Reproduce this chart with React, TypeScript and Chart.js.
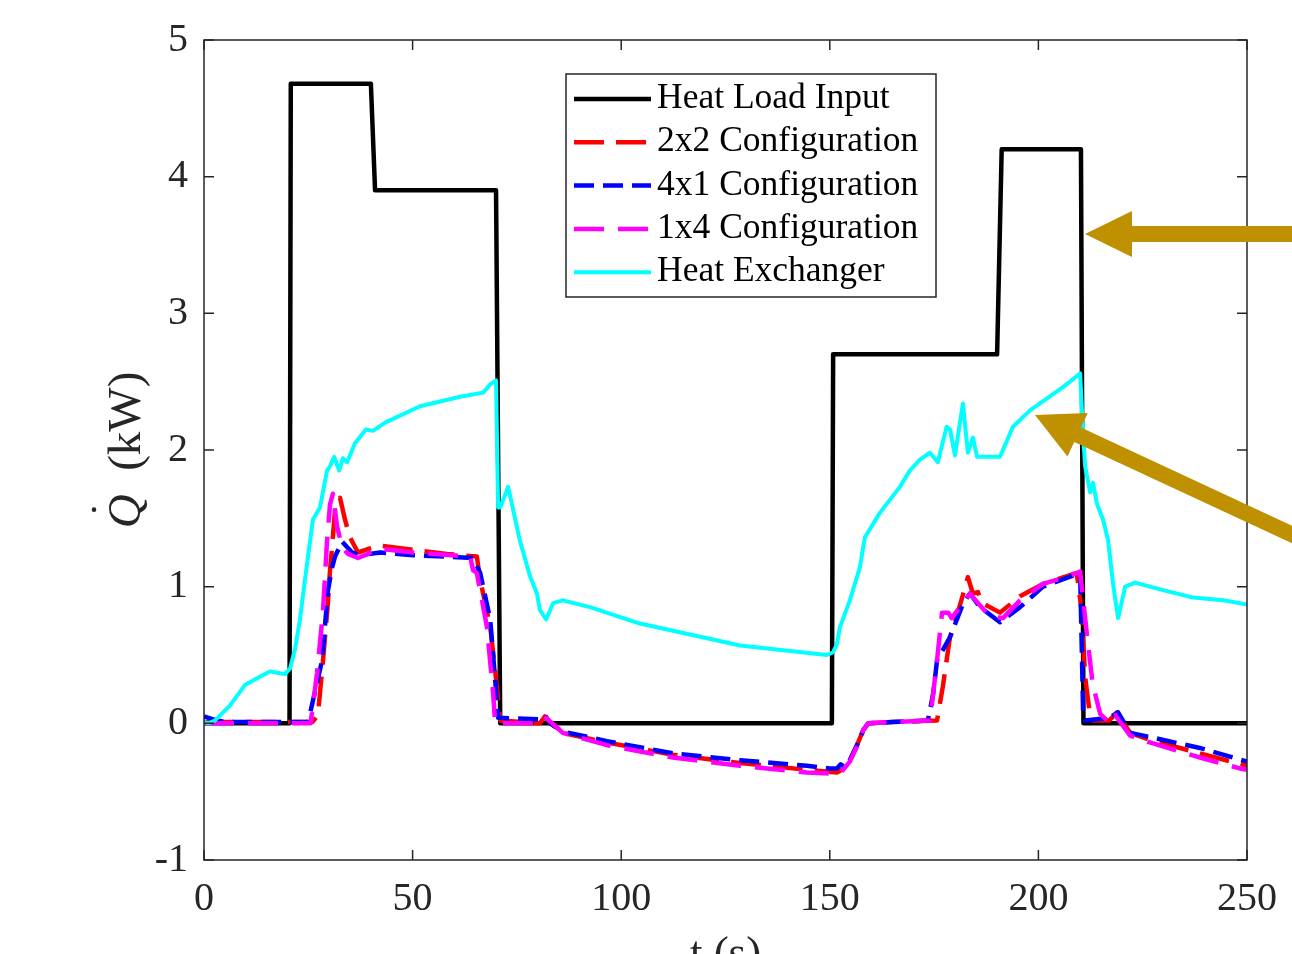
import { useEffect, useRef } from "react";
import { Chart, registerables } from "chart.js";

Chart.register(...registerables);

const FONT = '"Liberation Serif", "Times New Roman", serif';

// ---- data ----
const xTicks = [0, 50, 100, 150, 200, 250];
const yTicks = [-1, 0, 1, 2, 3, 4, 5];
const seriesNames = [
  "Heat Load Input",
  "2x2 Configuration",
  "4x1 Configuration",
  "1x4 Configuration",
  "Heat Exchanger",
];

const heatLoadT = [0, 20.5, 20.8, 40.0, 41.0, 70.0, 71.0, 150.5, 150.8, 190.1, 191.2, 210.2, 210.8, 250];
const heatLoadQ = [0, 0, 4.68, 4.68, 3.9, 3.9, 0, 0, 2.7, 2.7, 4.2, 4.2, 0, 0];

const cfg2x2T = [0, 26, 27.3, 28.5, 29.7, 30.2, 30.7, 31.4, 32.6, 33.8, 35, 36.9, 39.8, 42.2, 50.1, 58.2, 65.4, 66.2, 68.6, 70.2, 71, 80.5, 81.7, 83, 86, 96.6, 112.4, 128.5, 144.5, 151.7, 153.5, 154.8, 156.8, 158, 159.2, 165, 175.7, 177.1, 178.8, 180.4, 182, 183.1, 184.3, 185.5, 186.5, 190.8, 195.6, 201.1, 209.2, 210.4, 211.2, 212.4, 213, 217, 218.8, 222, 226.7, 238.7, 250];
const cfg2x2Q = [0.01, 0.01, 0.06, 0.45, 0.88, 1.12, 1.29, 1.56, 1.65, 1.49, 1.36, 1.25, 1.28, 1.3, 1.27, 1.24, 1.22, 1.05, 0.71, 0.27, 0.02, 0.0, 0.05, 0.0, -0.07, -0.14, -0.23, -0.29, -0.34, -0.36, -0.33, -0.27, -0.14, -0.05, 0.0, 0.01, 0.02, 0.27, 0.63, 0.78, 0.95, 1.07, 0.95, 0.96, 0.88, 0.81, 0.93, 1.02, 1.1, 0.81, 0.34, 0.05, 0.02, 0.02, 0.08, -0.07, -0.12, -0.22, -0.31];

const cfg4x1T = [0, 2, 5, 25, 25.4, 28.3, 29.7, 30.7, 31.4, 33.1, 35.5, 37.4, 42.2, 50.1, 58.2, 64.5, 66.2, 68.6, 70, 70.5, 80.5, 81.7, 83, 86, 96.6, 112.4, 128.5, 144.5, 150, 151.7, 152.6, 153.6, 154.8, 156.8, 158, 159.2, 165, 173.5, 174.8, 175.7, 178.8, 182, 183.6, 186, 190.8, 195.6, 201.1, 208.3, 210, 210.4, 210.7, 211.2, 217, 219.1, 222, 226.7, 238.7, 250];
const cfg4x1Q = [0.05, 0.03, 0.01, 0.01, 0.07, 0.46, 0.97, 1.14, 1.22, 1.33, 1.25, 1.23, 1.25, 1.23, 1.22, 1.21, 1.1, 0.76, 0.24, 0.04, 0.03, 0.06, 0.0, -0.06, -0.13, -0.22, -0.27, -0.31, -0.33, -0.33, -0.3, -0.32, -0.27, -0.14, -0.05, 0.0, 0.01, 0.02, 0.22, 0.46, 0.63, 0.88, 0.95, 0.85, 0.74, 0.85, 1.0, 1.08, 1.1, 0.54, 0.1, 0.02, 0.04, 0.08, -0.07, -0.1, -0.18, -0.28];

const cfg1x4T = [0, 25.5, 25.9, 27.1, 28.5, 29.5, 30.2, 30.9, 31.9, 33.1, 34.5, 36.9, 39.3, 41.7, 50.1, 63.8, 64.5, 65.4, 67.8, 69.3, 69.8, 80, 81, 82, 83.5, 86, 96.6, 112.4, 128.5, 144.5, 152.4, 154.8, 156.8, 158, 159.2, 165, 174, 174.4, 175.7, 176.9, 178.4, 179.2, 181.2, 183.6, 185.5, 188.4, 191.5, 195.6, 201.1, 207.6, 210, 211.6, 213, 214.8, 217.2, 218.4, 222, 226.7, 238.7, 248.3, 250];
const cfg1x4Q = [0.0, 0.0, 0.08, 0.37, 0.81, 1.34, 1.6, 1.68, 1.44, 1.29, 1.24, 1.21, 1.24, 1.28, 1.25, 1.22, 1.12, 1.1, 0.71, 0.22, 0.0, 0.0, 0.0, 0.04, 0.0, -0.07, -0.16, -0.25, -0.31, -0.36, -0.37, -0.28, -0.15, -0.05, 0.0, 0.01, 0.02, 0.12, 0.46, 0.81, 0.81, 0.77, 0.85, 0.95, 0.88, 0.78, 0.77, 0.9, 1.02, 1.08, 1.11, 0.66, 0.29, 0.07, 0.0, 0.06, -0.09, -0.14, -0.25, -0.33, -0.34];

const hxT = [0, 1, 2.6, 6.2, 9.8, 13.4, 15.8, 17.5, 19.4, 20.6, 21.8, 23, 24.2, 26.1, 27.8, 29.5, 30.2, 31.2, 32.4, 33.3, 34.3, 36.2, 38.8, 40.5, 43.4, 51.8, 61.4, 66.9, 68.6, 70, 70.5, 71, 72.9, 75.7, 78.1, 79.8, 80.5, 82, 83.7, 86, 92.5, 104.5, 116.5, 128.5, 140.5, 149.3, 150.8, 151.7, 152.4, 154.8, 157.2, 158.4, 162, 166.8, 169.2, 171.6, 174, 175.9, 178, 178.8, 180, 181.9, 183.1, 184.3, 185.3, 190.8, 193.9, 198, 205.9, 210, 210.7, 211.2, 212.4, 213.1, 214, 215.5, 216.7, 217.9, 219.1, 220.8, 223.2, 229.2, 237.1, 244.3, 250];
const hxQ = [0.01, 0.0, 0.02, 0.13, 0.28, 0.34, 0.38, 0.37, 0.36, 0.4, 0.54, 0.76, 1.05, 1.49, 1.58, 1.85, 1.88, 1.95, 1.85, 1.94, 1.91, 2.05, 2.15, 2.14, 2.2, 2.32, 2.39, 2.42, 2.48, 2.51, 1.58, 1.58, 1.73, 1.34, 1.08, 0.95, 0.83, 0.76, 0.88, 0.9, 0.85, 0.73, 0.65, 0.57, 0.53, 0.5, 0.52, 0.58, 0.7, 0.9, 1.14, 1.36, 1.54, 1.73, 1.85, 1.93, 1.98, 1.91, 2.17, 2.15, 1.96, 2.34, 1.98, 2.09, 1.95, 1.95, 2.17, 2.29, 2.46, 2.56, 2.12, 1.88, 1.69, 1.76, 1.61, 1.49, 1.34, 1.02, 0.77, 1.0, 1.03, 0.98, 0.92, 0.9, 0.87];

const pts = (t: number[], q: number[]) => t.map((x, i) => ({ x, y: q[i] }));

const ARROW_COLOR = "#BF9000";

function drawArrow(ctx: CanvasRenderingContext2D, tipX: number, tipY: number, angle: number, headLen: number, headHalf: number, shaftHalf: number, shaftLen: number) {
  ctx.save();
  ctx.translate(tipX, tipY);
  ctx.rotate(angle);
  ctx.beginPath();
  ctx.moveTo(0, 0);
  ctx.lineTo(headLen, -headHalf);
  ctx.lineTo(headLen, -shaftHalf);
  ctx.lineTo(shaftLen, -shaftHalf);
  ctx.lineTo(shaftLen, shaftHalf);
  ctx.lineTo(headLen, shaftHalf);
  ctx.lineTo(headLen, headHalf);
  ctx.closePath();
  ctx.fillStyle = ARROW_COLOR;
  ctx.fill();
  ctx.restore();
}

const decorPlugin = {
  id: "matlabDecor",
  afterDraw(chart: any) {
    const ctx: CanvasRenderingContext2D = chart.ctx;
    const { left, right, top, bottom } = chart.chartArea;
    const xs = chart.scales.x;
    const ys = chart.scales.y;
    ctx.save();
    // box
    ctx.strokeStyle = "#262626";
    ctx.lineWidth = 1.5;
    ctx.strokeRect(left, top, right - left, bottom - top);
    const tl = 10;
    ctx.beginPath();
    xTicks.forEach((v) => {
      const px = xs.getPixelForValue(v);
      ctx.moveTo(px, bottom);
      ctx.lineTo(px, bottom - tl);
      ctx.moveTo(px, top);
      ctx.lineTo(px, top + tl);
    });
    yTicks.forEach((v) => {
      const py = ys.getPixelForValue(v);
      ctx.moveTo(left, py);
      ctx.lineTo(left + tl, py);
      ctx.moveTo(right, py);
      ctx.lineTo(right - tl, py);
    });
    ctx.stroke();

    // legend
    const lx0 = 566, ly0 = 74, lx1 = 936, ly1 = 297;
    ctx.fillStyle = "#fff";
    ctx.fillRect(lx0, ly0, lx1 - lx0, ly1 - ly0);
    ctx.strokeStyle = "#262626";
    ctx.lineWidth = 1.5;
    ctx.strokeRect(lx0, ly0, lx1 - lx0, ly1 - ly0);
    ctx.font = `35.5px ${FONT}`;
    ctx.textAlign = "left";
    ctx.textBaseline = "alphabetic";
    seriesNames.forEach((name, i) => {
      const ds = chart.data.datasets[i];
      const ry = 99 + i * 43.3;
      ctx.save();
      ctx.strokeStyle = ds.borderColor;
      ctx.lineWidth = ds.borderWidth;
      ctx.setLineDash(ds.borderDash || []);
      ctx.beginPath();
      ctx.moveTo(574, ry);
      ctx.lineTo(651, ry);
      ctx.stroke();
      ctx.restore();
      ctx.fillStyle = "#000";
      ctx.fillText(name, 657, ry + 9);
    });

    // y label
    ctx.save();
    ctx.translate(140, 450);
    ctx.rotate(-Math.PI / 2);
    ctx.fillStyle = "#262626";
    ctx.font = `italic 47px ${FONT}`;
    const qW = ctx.measureText("Q").width;
    ctx.font = `47px ${FONT}`;
    const restW = ctx.measureText("  (kW)").width;
    const start = -(qW + restW) / 2;
    ctx.font = `italic 47px ${FONT}`;
    ctx.fillText("Q", start, 0);
    ctx.beginPath();
    ctx.arc(start + qW * 0.55, -46, 2.3, 0, Math.PI * 2);
    ctx.fill();
    ctx.font = `47px ${FONT}`;
    ctx.fillText("  (kW)", start + qW, 0);
    ctx.restore();

    // x label (partially cut at the bottom)
    ctx.fillStyle = "#262626";
    ctx.font = `45px ${FONT}`;
    ctx.textAlign = "center";
    ctx.fillText("t (s)", (left + right) / 2, 967);

    // arrows
    drawArrow(ctx, 1085, 234, 0, 47, 23, 8, 260);
    drawArrow(ctx, 1035, 415, Math.atan2(20, 43), 47, 24, 8, 400);

    ctx.restore();
  },
};

export default function App() {
  const ref = useRef<HTMLCanvasElement | null>(null);
  useEffect(() => {
    document.body.style.margin = "0";
    const canvas = ref.current;
    if (!canvas) return;
    const common = { pointRadius: 0, tension: 0, fill: false, borderJoinStyle: "round" as const, borderCapStyle: "butt" as const };
    const chart = new Chart(canvas, {
      type: "line",
      data: {
        datasets: [
          { label: seriesNames[0], data: pts(heatLoadT, heatLoadQ), borderColor: "#000000", borderWidth: 4.5, order: 5, ...common },
          { label: seriesNames[1], data: pts(cfg2x2T, cfg2x2Q), borderColor: "#FF0000", borderWidth: 4.5, borderDash: [30, 12], order: 4, ...common },
          { label: seriesNames[2], data: pts(cfg4x1T, cfg4x1Q), borderColor: "#0000FF", borderWidth: 4.5, borderDash: [20, 9], order: 3, ...common },
          { label: seriesNames[3], data: pts(cfg1x4T, cfg1x4Q), borderColor: "#FF00FF", borderWidth: 4.5, borderDash: [30, 14], order: 2, ...common },
          { label: seriesNames[4], data: pts(hxT, hxQ), borderColor: "#00FFFF", borderWidth: 4, order: 1, ...common },
        ],
      },
      options: {
        responsive: false,
        animation: false,
        layout: { padding: { top: 40, right: 45, left: 0, bottom: 0 } },
        plugins: { legend: { display: false }, tooltip: { enabled: false } },
        scales: {
          x: {
            type: "linear",
            min: 0,
            max: 250,
            afterBuildTicks: (s: any) => { s.ticks = xTicks.map((v) => ({ value: v })); },
            afterFit: (s: any) => { s.height = 94; },
            grid: { display: false, drawTicks: false },
            border: { display: false },
            ticks: { font: { family: FONT, size: 40 }, color: "#262626", padding: 15, maxRotation: 0, autoSkip: false },
          },
          y: {
            type: "linear",
            min: -1,
            max: 5,
            afterBuildTicks: (s: any) => { s.ticks = yTicks.map((v) => ({ value: v })); },
            afterFit: (s: any) => { s.width = 204; },
            grid: { display: false, drawTicks: false },
            border: { display: false },
            ticks: { font: { family: FONT, size: 40 }, color: "#262626", padding: 16, autoSkip: false },
          },
        },
      },
      plugins: [decorPlugin],
    });
    return () => chart.destroy();
  }, []);
  return <canvas ref={ref} width={1292} height={954} style={{ display: "block" }} />;
}
